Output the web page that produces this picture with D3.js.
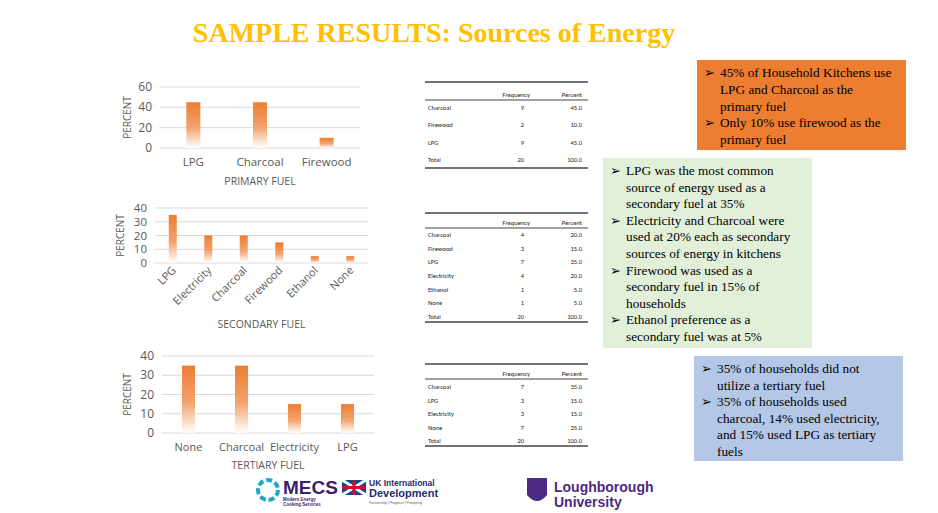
<!DOCTYPE html>
<html><head><meta charset="utf-8">
<script src="https://cdn.jsdelivr.net/npm/d3@7"></script>
<style>body{margin:0;background:#fff}svg{display:block}</style>
</head><body>
<script>
const primaryFuels = ['LPG', 'Charcoal', 'Firewood'];
const primaryPct = [45, 45, 10];
const secondaryFuels = ['LPG', 'Electricity', 'Charcoal', 'Firewood', 'Ethanol', 'None'];
const secondaryPct = [35, 20, 20, 15, 5, 5];
const tertiaryFuels = ['None', 'Charcoal', 'Electricity', 'LPG'];
const tertiaryPct = [35, 35, 15, 15];

const table1Rows = ['Charcoal', 'Firewood', 'LPG', 'Total'];
const table1Freq = [9, 2, 9, 20];
const table1Pct = ['45.0', '10.0', '45.0', '100.0'];
const table2Rows = ['Charcoal', 'Firewood', 'LPG', 'Electricity', 'Ethanol', 'None', 'Total'];
const table2Freq = [4, 3, 7, 4, 1, 1, 20];
const table2Pct = ['20.0', '15.0', '35.0', '20.0', '5.0', '5.0', '100.0'];
const table3Rows = ['Charcoal', 'LPG', 'Electricity', 'None', 'Total'];
const table3Freq = [7, 3, 3, 7, 20];
const table3Pct = ['35.0', '15.0', '15.0', '35.0', '100.0'];

const note1 = ['45% of Household Kitchens use', 'LPG and Charcoal as the', 'primary fuel', '*Only 10% use firewood as the', 'primary fuel'];
const note2 = ['LPG was the most common', 'source of energy used as a', 'secondary fuel at 35%', '*Electricity and Charcoal were', 'used at 20% each as secondary', 'sources of energy in kitchens', '*Firewood was used as a', 'secondary fuel in 15% of', 'households', '*Ethanol preference as a', 'secondary fuel was at 5%'];
const note3 = ['35% of households did not', 'utilize a tertiary fuel', '*35% of households used', 'charcoal, 14% used electricity,', 'and 15% used LPG as tertiary', 'fuels'];

const W = 938, H = 513;
const svg = d3.select('body').append('svg').attr('width', W).attr('height', H);

const grad = svg.append('defs').append('linearGradient')
  .attr('id', 'bar').attr('x1', 0).attr('y1', 0).attr('x2', 0).attr('y2', 1);
grad.append('stop').attr('offset', '0%').attr('stop-color', '#ED7D31');
grad.append('stop').attr('offset', '55%').attr('stop-color', '#F3A36E');
grad.append('stop').attr('offset', '100%').attr('stop-color', '#fff');

svg.append('text').attr('x', 434).attr('y', 42).attr('text-anchor', 'middle')
  .attr('font-family', 'Liberation Serif').attr('font-weight', 'bold').attr('font-size', 28)
  .attr('fill', '#FFC000').text('SAMPLE RESULTS: Sources of Energy');

function chart(cats, vals, o) {
  const x = d3.scaleBand().domain(cats).range([o.x0, o.x1]);
  const y = d3.scaleLinear().domain([0, o.max]).range([o.y0, o.y1]);
  const g = svg.append('g').attr('font-family', 'Open Sans, sans-serif').attr('fill', '#595959');
  const ticks = d3.range(0, o.max + 1, o.step);
  g.selectAll('line.grid').data(ticks).join('line')
    .attr('x1', o.x0).attr('x2', o.x1).attr('y1', d => y(d)).attr('y2', d => y(d))
    .attr('stroke', '#d9d9d9');
  g.selectAll('text.tick').data(ticks).join('text')
    .attr('x', o.x0 - 8).attr('y', d => y(d) + 4).attr('text-anchor', 'end')
    .attr('font-size', o.tfs || 12).attr('fill', '#595959').text(d => d);
  g.selectAll('rect').data(vals).join('rect')
    .attr('x', (d, i) => x(cats[i]) + (x.bandwidth() - o.bw) / 2)
    .attr('y', d => y(d)).attr('width', o.bw).attr('height', d => y(0) - y(d))
    .attr('fill', 'url(#bar)');
  if (o.rot) {
    g.selectAll('text.lab').data(cats).join('text')
      .attr('transform', d => `translate(${x(d) + x.bandwidth() / 2 + 4},${o.y0 + 8}) rotate(-45)`)
      .attr('text-anchor', 'end').attr('font-size', 11).attr('fill', '#595959').text(d => d);
  } else {
    g.selectAll('text.lab').data(cats).join('text')
      .attr('x', d => x(d) + x.bandwidth() / 2).attr('y', o.y0 + 18)
      .attr('text-anchor', 'middle').attr('font-size', o.lfs || 11.5).attr('fill', '#595959').text(d => d);
  }
  g.append('text').attr('x', (o.x0 + o.x1) / 2).attr('y', o.titleY).attr('text-anchor', 'middle')
    .attr('font-size', 10.5).attr('fill', '#595959').text(o.title);
  g.append('text').attr('transform', `translate(${o.px},${(o.y0 + o.y1) / 2}) rotate(-90)`)
    .attr('text-anchor', 'middle').attr('font-size', 10).attr('fill', '#595959').text('PERCENT');
}

chart(primaryFuels, primaryPct, {x0: 160, x1: 360, y0: 148, y1: 87, max: 60, step: 20, bw: 14, px: 131, title: 'PRIMARY FUEL', titleY: 185});
chart(secondaryFuels, secondaryPct, {x0: 155, x1: 368, y0: 263, y1: 208, max: 40, step: 10, bw: 8, rot: true, tfs: 11.5, px: 124, title: 'SECONDARY FUEL', titleY: 328});
chart(tertiaryFuels, tertiaryPct, {x0: 162, x1: 374, y0: 433, y1: 356, max: 40, step: 10, bw: 13, lfs: 11, px: 131, title: 'TERTIARY FUEL', titleY: 469});

function table(rows, freq, pct, o) {
  const g = svg.append('g').attr('font-family', 'Carlito, Liberation Sans, sans-serif').attr('font-size', 6.5).attr('fill', '#222');
  const y = d3.scalePoint().domain(d3.range(rows.length)).range([o.r0, o.r1]);
  g.append('line').attr('x1', 425).attr('x2', 588).attr('y1', o.top).attr('y2', o.top).attr('stroke', '#444').attr('stroke-width', 1.5);
  g.append('line').attr('x1', 425).attr('x2', 588).attr('y1', o.head + 3).attr('y2', o.head + 3).attr('stroke', '#444').attr('stroke-width', 1.2);
  g.append('line').attr('x1', 425).attr('x2', 588).attr('y1', o.bot).attr('y2', o.bot).attr('stroke', '#444').attr('stroke-width', 1.5);
  g.append('text').attr('x', 530).attr('y', o.head).attr('text-anchor', 'end').text('Frequency');
  g.append('text').attr('x', 582).attr('y', o.head).attr('text-anchor', 'end').text('Percent');
  rows.forEach((r, i) => {
    g.append('text').attr('x', 428).attr('y', y(i)).text(r);
    g.append('text').attr('x', 524).attr('y', y(i)).attr('text-anchor', 'end').text(freq[i]);
    g.append('text').attr('x', 582).attr('y', y(i)).attr('text-anchor', 'end').text(pct[i]);
  });
}
table(table1Rows, table1Freq, table1Pct, {top: 82, head: 97, r0: 110, r1: 162, bot: 168});
table(table2Rows, table2Freq, table2Pct, {top: 213, head: 225, r0: 237, r1: 319, bot: 322});
table(table3Rows, table3Freq, table3Pct, {top: 364, head: 376, r0: 389, r1: 443, bot: 446});

function note(lines, o) {
  svg.append('rect').attr('x', o.x).attr('y', o.y).attr('width', o.w).attr('height', o.h)
    .attr('fill', o.fill);
  const g = svg.append('g').attr('font-family', 'Liberation Serif').attr('font-size', 13.3).attr('fill', '#000');
  lines.forEach((l, i) => {
    const bullet = i === 0 || l.startsWith('*');
    const t = l.replace(/^\*/, '');
    const yy = o.y + 17 + i * o.lh;
    if (bullet) g.append('text').attr('x', o.x + 7).attr('y', yy).text('\u27A2');
    g.append('text').attr('x', o.x + 23).attr('y', yy).text(t);
  });
}
note(note1, {x: 697, y: 60, w: 209, h: 90, fill: '#ED7D31', lh: 16.8});
note(note2, {x: 603, y: 158, w: 209, h: 190, fill: '#E2F0D9', lh: 16.6});
note(note3, {x: 694, y: 356, w: 209, h: 105, fill: '#B4C7E7', lh: 16.6});

// logos (as text)
const lg = svg.append('g').attr('font-family', 'Liberation Sans, sans-serif').attr('font-weight', 'bold');
lg.append('circle').attr('cx', 268).attr('cy', 490).attr('r', 10).attr('fill', 'none').attr('stroke', '#1ba7c9').attr('stroke-width', 4).attr('stroke-dasharray', '6 3');
lg.append('text').attr('x', 283).attr('y', 494).attr('font-size', 19).attr('fill', '#3b1f6b').text('MECS');
lg.append('text').attr('x', 283).attr('y', 501).attr('font-size', 4.5).attr('fill', '#3b1f6b').text('Modern Energy');
lg.append('text').attr('x', 283).attr('y', 506).attr('font-size', 4.5).attr('fill', '#3b1f6b').text('Cooking Services');
lg.append('rect').attr('x', 342).attr('y', 480).attr('width', 24).attr('height', 15).attr('fill', '#1f3f8f');
lg.append('path').attr('d', 'M342,480L366,495M366,480L342,495').attr('stroke', '#fff').attr('stroke-width', 3);
lg.append('path').attr('d', 'M354,480V495M342,487.5H366').attr('stroke', '#d0112b').attr('stroke-width', 3);
lg.append('text').attr('x', 369).attr('y', 486).attr('font-size', 8.5).attr('fill', '#1f2d6b').text('UK International');
lg.append('text').attr('x', 369).attr('y', 497).attr('font-size', 11).attr('fill', '#1f2d6b').text('Development');
lg.append('text').attr('x', 369).attr('y', 504).attr('font-size', 3.5).attr('font-weight', 'normal').attr('fill', '#555').text('Partnership  |  Progress  |  Prosperity');
lg.append('path').attr('d', 'M527,478H547V495Q537,507 527,495Z').attr('fill', '#4b2a83');
lg.append('text').attr('x', 554).attr('y', 492).attr('font-size', 14).attr('fill', '#4b2a83').text('Loughborough');
lg.append('text').attr('x', 554).attr('y', 507).attr('font-size', 14).attr('fill', '#4b2a83').text('University');
</script>
</body></html>
